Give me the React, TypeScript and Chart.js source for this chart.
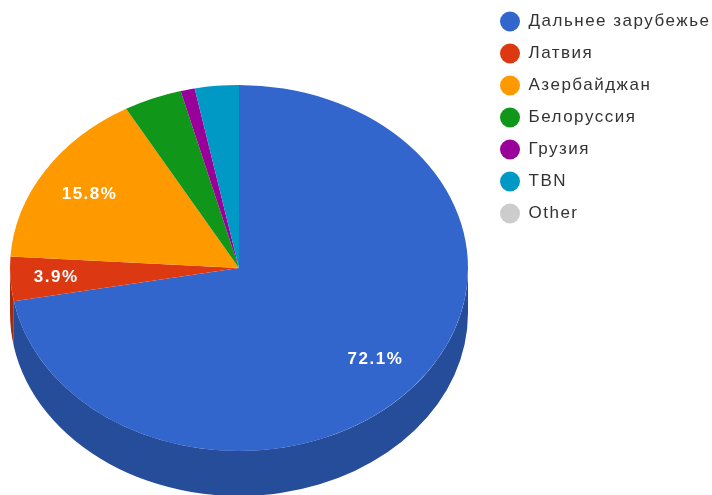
import React, { useEffect, useRef } from "react";
import { Chart, registerables } from "chart.js";

Chart.register(...registerables);

const categories = ["Дальнее зарубежье", "Латвия", "Азербайджан", "Белоруссия", "Грузия", "TBN", "Other"];
const shares = [72.1, 3.9, 15.8, 4.1, 1.0, 3.1, 0];
const faceColors = ["#3366CC", "#DC3912", "#FF9900", "#109618", "#990099", "#0099C6", "#CCCCCC"];
const wallColors = ["#264D99", "#A52B0E", "#BF7300", "#0C7112", "#730073", "#007395", "#999999"];
const labelledCategories = ["Дальнее зарубежье", "Латвия", "Азербайджан"];
const labelDistance = [0.775, 0.8, 0.77];

const CENTER_X = 239;
const CENTER_Y = 268;
const RADIUS_X = 229;
const RADIUS_Y = 183;
const DEPTH = 45;

const pie3d = {
  id: "pie3d",
  afterLayout(chart: any) {
    const a = chart.chartArea;
    a.left = CENTER_X - RADIUS_X;
    a.right = CENTER_X + RADIUS_X;
    a.top = CENTER_Y - RADIUS_X;
    a.bottom = CENTER_Y + RADIUS_X;
    a.width = a.right - a.left;
    a.height = a.bottom - a.top;
    const lg = chart.legend;
    const h = lg.height;
    lg.left = 485;
    lg.right = 712;
    lg.width = lg.right - lg.left;
    lg.top = -2;
    lg.bottom = lg.top + h;
  },
  beforeDraw(chart: any) {
    chart.ctx.letterSpacing = "1.5px";
  },
  beforeDatasetsDraw(chart: any) {
    const ctx = chart.ctx;
    const k = RADIUS_Y / RADIUS_X;
    ctx.save();
    ctx.translate(CENTER_X, CENTER_Y);
    ctx.scale(1, k);
    ctx.translate(-CENTER_X, -CENTER_Y);
    const drop = DEPTH / k;
    chart.getDatasetMeta(0).data.forEach((arc: any, i: number) => {
      const { x, y, startAngle, endAngle, outerRadius } = arc.getProps(["x", "y", "startAngle", "endAngle", "outerRadius"]);
      const a0 = Math.max(startAngle, 0);
      const a1 = Math.min(endAngle, Math.PI);
      if (a1 <= a0) return;
      ctx.beginPath();
      ctx.arc(x, y, outerRadius, a0, a1);
      ctx.arc(x, y + drop, outerRadius, a1, a0, true);
      ctx.closePath();
      ctx.fillStyle = wallColors[i];
      ctx.fill();
    });
  },
  afterDatasetsDraw(chart: any) {
    const ctx = chart.ctx;
    ctx.restore();
    const k = RADIUS_Y / RADIUS_X;
    ctx.save();
    ctx.fillStyle = "#ffffff";
    ctx.font = "bold 17px 'Liberation Sans'";
    ctx.textAlign = "center";
    ctx.textBaseline = "middle";
    chart.getDatasetMeta(0).data.forEach((arc: any, i: number) => {
      const n = labelledCategories.indexOf(categories[i]);
      if (n < 0) return;
      const { x, y, startAngle, endAngle, outerRadius } = arc.getProps(["x", "y", "startAngle", "endAngle", "outerRadius"]);
      const mid = (startAngle + endAngle) / 2;
      const r = outerRadius * labelDistance[n];
      ctx.fillText(shares[i].toFixed(1) + "%", x + Math.cos(mid) * r, y + Math.sin(mid) * r * k + 1);
    });
    ctx.restore();
  },
};

export default function App() {
  const ref = useRef<HTMLCanvasElement>(null);
  useEffect(() => {
    const chart = new Chart(ref.current!, {
      type: "pie",
      plugins: [pie3d],
      data: {
        labels: categories,
        datasets: [{ data: shares, backgroundColor: faceColors, borderWidth: 0, clip: false } as any],
      },
      options: {
        animation: false,
        responsive: false,
        radius: RADIUS_X,
        layout: { padding: 0 },
        plugins: {
          tooltip: { enabled: false },
          legend: {
            position: "right",
            align: "start",
            labels: {
              usePointStyle: true,
              pointStyle: "circle",
              pointStyleWidth: 20,
              boxHeight: 14,
              padding: 15,
              color: "#333333",
              font: { family: "'Liberation Sans'", size: 17 },
            },
          },
        },
      } as any,
    });
    return () => chart.destroy();
  }, []);
  return (
    <div style={{ position: "fixed", left: 0, top: 0, width: 712, height: 495, overflow: "hidden", background: "#fff" }}>
      <canvas ref={ref} width={712} height={495} style={{ display: "block", filter: "blur(0.6px)" }} />
    </div>
  );
}
